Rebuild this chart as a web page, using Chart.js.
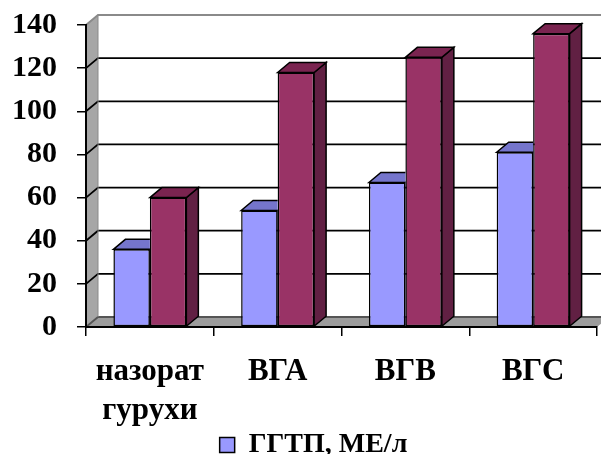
<!DOCTYPE html>
<html>
<head>
<meta charset="utf-8">
<script src="https://cdn.jsdelivr.net/npm/chart.js@4.4.1/dist/chart.umd.min.js"></script>
<style>
  html, body { margin: 0; padding: 0; background: #fff; }
  #wrap { width: 601px; height: 454px; }
</style>
</head>
<body>
<div id="wrap"><canvas id="ggtpChart" width="601" height="454"></canvas></div>
<script>
// groups and values
const groups = [['назорат', 'гурухи'], 'ВГА', 'ВГВ', 'ВГС'];
const ggtpFirst = [36, 54, 67, 81];
const ggtpSecond = [60, 118, 125, 136];
const yMin = 0, yMax = 140, yStep = 20;

// depth of the fake 3d box
const DX = 12, DY = 10;
const serif = "'Liberation Serif', 'Times New Roman', serif";

function poly(ctx, pts, fill, stroke, lw) {
  ctx.beginPath();
  ctx.moveTo(pts[0][0], pts[0][1]);
  for (let i = 1; i < pts.length; i++) ctx.lineTo(pts[i][0], pts[i][1]);
  ctx.closePath();
  if (fill) { ctx.fillStyle = fill; ctx.fill(); }
  if (stroke) { ctx.strokeStyle = stroke; ctx.lineWidth = lw || 1; ctx.stroke(); }
}

const walls = {
  id: 'walls',
  // nudge the legend a bit
  afterLayout(chart) {
    const lg = chart.legend;
    if (!lg) return;
    lg.top -= 4; lg.bottom -= 4;
    lg.left += 15; lg.right += 15;
  },
  // side wall, floor and back-wall gridlines
  beforeDatasetsDraw(chart) {
    const { ctx, chartArea: a, scales: { y } } = chart;
    ctx.save();
    poly(ctx, [[a.left, a.top], [a.left + DX, a.top - DY], [a.left + DX, a.bottom - DY], [a.left, a.bottom]], '#a6a6a6');
    poly(ctx, [[a.left, a.bottom], [a.left + DX, a.bottom - DY], [a.right + DX, a.bottom - DY], [a.right, a.bottom]], '#9c9c9c');
    y.ticks.forEach(t => {
      const py = y.getPixelForValue(t.value);
      ctx.beginPath();
      ctx.moveTo(a.left, py);
      ctx.lineTo(a.left + DX, py - DY);
      ctx.lineTo(a.right + DX, py - DY);
      ctx.strokeStyle = t.value === yMax ? '#8a8a8a' : (t.value === yMin ? '#555' : '#000');
      ctx.lineWidth = t.value === yMax ? 2 : 1.8;
      ctx.stroke();
    });
    ctx.beginPath();
    ctx.moveTo(a.left + DX, a.top - DY);
    ctx.lineTo(a.left + DX, a.bottom - DY);
    ctx.strokeStyle = '#8a8a8a';
    ctx.lineWidth = 1;
    ctx.stroke();
    ctx.restore();
  },
  // top and side faces of every bar, kept behind the fronts of bars drawn earlier
  afterDatasetDraw(chart, args) {
    const { ctx } = chart;
    const ds = chart.data.datasets[args.index];
    args.meta.data.forEach((bar, i) => {
      const { x, y, width, base } = bar.getProps(['x', 'y', 'width', 'base'], true);
      const l = x - width / 2, r = x + width / 2;
      ctx.save();
      ctx.beginPath();
      ctx.rect(0, 0, chart.width, chart.height);
      chart.data.datasets.forEach((other, j) => {
        if (j <= args.index) return;
        const ob = chart.getDatasetMeta(j).data[i];
        if (!ob) return;
        const p = ob.getProps(['x', 'y', 'width', 'base'], true);
        ctx.rect(p.x - p.width / 2, p.y, p.width, p.base - p.y);
      });
      ctx.clip('evenodd');
      poly(ctx, [[r, y], [r + DX, y - DY], [r + DX, base - DY], [r, base]], ds.sideColor, '#000', 1.5);
      poly(ctx, [[l, y], [l + DX, y - DY], [r + DX, y - DY], [r, y]], ds.topColor, '#000', 1.5);
      ctx.restore();
    });
  }
};

new Chart(document.getElementById('ggtpChart').getContext('2d'), {
  type: 'bar',
  data: {
    labels: groups,
    datasets: [
      { label: 'ГГТП, МЕ/л', data: ggtpFirst,
        backgroundColor: '#9999ff', topColor: '#7575cc', sideColor: '#6b6bbf',
        borderColor: '#000', borderWidth: 1.5, borderSkipped: false },
      { label: '', data: ggtpSecond,
        backgroundColor: '#993366', topColor: '#7a2450', sideColor: '#612043',
        borderColor: '#000', borderWidth: 1.5, borderSkipped: false }
    ]
  },
  options: {
    responsive: false,
    animation: false,
    devicePixelRatio: 1,
    categoryPercentage: 0.571,
    barPercentage: 1,
    layout: { padding: { top: 25, right: 4, left: 0, bottom: -19 } },
    plugins: {
      tooltip: { enabled: false },
      legend: {
        position: 'bottom',
        labels: {
          filter: item => item.text !== '',
          boxWidth: 15, boxHeight: 15, padding: 4,
          color: '#000',
          font: { family: serif, size: 28, weight: 'bold' }
        }
      }
    },
    scales: {
      x: {
        grid: { offset: true, drawOnChartArea: false, drawTicks: true, tickLength: 9, color: '#000', lineWidth: 1.5 },
        border: { display: true, color: '#000', width: 2, z: 1 },
        ticks: { color: '#000', padding: 17, maxRotation: 0, autoSkip: false,
          font: { family: serif, size: 31, weight: 'bold', lineHeight: 1.25 } },
        afterFit: s => { s.height = 104; }
      },
      y: {
        min: yMin, max: yMax,
        grid: { drawOnChartArea: false, drawTicks: true, tickLength: 9, color: '#000', lineWidth: 1.5 },
        border: { display: true, color: '#000', width: 2, z: 1 },
        ticks: { stepSize: yStep, color: '#000', padding: 20,
          font: { family: serif, size: 30, weight: 'bold' } },
        afterFit: s => { s.width = 86; s.paddingTop = 0; s.paddingBottom = 0; }
      }
    }
  },
  plugins: [walls]
});
</script>
</body>
</html>
